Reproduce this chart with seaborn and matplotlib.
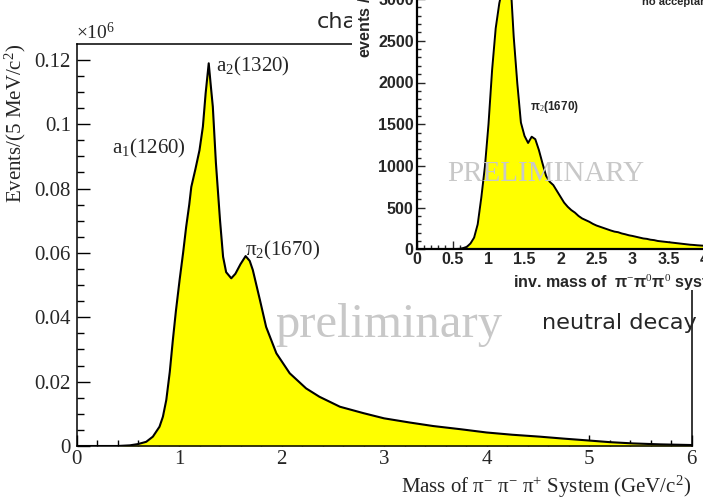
import matplotlib

matplotlib.use("Agg")
import matplotlib.pyplot as plt
import matplotlib.ticker as mtick
from matplotlib.patches import Rectangle
import seaborn as sns

##### data #####################################################################
# main plot: pi- pi- pi+ mass spectrum, events (x10^6) per 5 MeV/c^2
mass_main = [0.0, 0.40, 0.52, 0.60, 0.68, 0.745, 0.81, 0.843, 0.876, 0.91, 0.94,
             0.97, 1.006, 1.04, 1.07, 1.10, 1.12, 1.16, 1.20, 1.233, 1.26, 1.29,
             1.31, 1.33, 1.36, 1.40, 1.43, 1.46, 1.51, 1.55, 1.60, 1.65, 1.69,
             1.72, 1.79, 1.85, 1.95, 2.08, 2.24, 2.37, 2.57, 2.80, 3.00, 3.25,
             3.48, 3.75, 4.00, 4.25, 4.52, 4.75, 5.00, 5.20, 5.43, 5.70, 6.00]
events_main = [0.0, 0.0, 0.0002, 0.0006, 0.0013, 0.0029, 0.0060, 0.0091, 0.0143,
               0.0230, 0.0329, 0.0420, 0.0516, 0.0600, 0.0681, 0.0750, 0.0805,
               0.0860, 0.0919, 0.0992, 0.1096, 0.1189, 0.1120, 0.1054, 0.0880,
               0.0702, 0.0588, 0.0540, 0.0521, 0.0535, 0.0565, 0.0590, 0.0575,
               0.0547, 0.0453, 0.0370, 0.0288, 0.0226, 0.0179, 0.0153, 0.0122,
               0.0102, 0.0086, 0.0073, 0.0062, 0.0052, 0.0042, 0.0035, 0.0029,
               0.0023, 0.0017, 0.0012, 0.0008, 0.0005, 0.0003]

# inset: pi- pi0 pi0 spectrum, bin centres and contents
mass_inset = [0.00, 0.50, 0.55, 0.60, 0.65, 0.70, 0.75, 0.80, 0.85, 0.90, 0.95,
              1.00, 1.05, 1.10, 1.15, 1.20, 1.25, 1.30, 1.35, 1.40, 1.45, 1.50,
              1.55, 1.60, 1.65, 1.70, 1.75, 1.80, 1.85, 1.90, 1.95, 2.00, 2.05,
              2.10, 2.15, 2.20, 2.25, 2.30, 2.35, 2.40, 2.45, 2.50, 2.55, 2.60,
              2.65, 2.70, 2.75, 2.80, 2.85, 2.90, 2.95, 3.00, 3.05, 3.10, 3.15,
              3.20, 3.25, 3.30, 3.35, 3.40, 3.45, 3.50, 3.55, 3.60, 3.65, 3.70,
              3.75, 3.80, 3.85, 3.90, 3.95, 4.00, 4.05, 4.10]
events_inset = [0, 2, 4, 6, 15, 30, 70, 140, 300, 620, 990,
                1500, 2150, 2650, 2950, 3150, 3250, 3300, 2550, 1990, 1520, 1360,
                1275, 1350, 1320, 1190, 1030, 880, 810, 770, 700, 630, 560,
                510, 470, 440, 400, 370, 350, 330, 305, 285, 270, 255,
                240, 225, 212, 205, 190, 180, 168, 160, 150, 140, 130,
                125, 115, 110, 100, 95, 90, 85, 80, 75, 70, 65,
                60, 55, 52, 48, 45, 42, 40, 38]

main_xticks = [0, 1, 2, 3, 4, 5, 6]
main_yticks = [0, 0.02, 0.04, 0.06, 0.08, 0.10, 0.12]
inset_xticks = [0, 0.5, 1, 1.5, 2, 2.5, 3, 3.5, 4, 4.5]
inset_yticks = [0, 500, 1000, 1500, 2000, 2500, 3000]

YELLOW = "#ffff00"
GREY = "#c8c8c8"
SANS = "DejaVu Sans"

sns.set_style("ticks")
plt.rcParams["font.family"] = ["Liberation Serif", "DejaVu Serif"]
plt.rcParams["mathtext.fontset"] = "custom"
plt.rcParams["mathtext.rm"] = "Liberation Serif"
plt.rcParams["mathtext.it"] = "Liberation Serif:italic"
plt.rcParams["mathtext.bf"] = "Liberation Serif:bold"

W, H = 703, 499
fig = plt.figure(figsize=(W / 100, H / 100), dpi=100)


def fig_box(x0, y_bottom, x1, y_top):
    """pixel box (y from top) -> figure fraction rect"""
    return [x0 / W, (H - y_bottom) / H, (x1 - x0) / W, (y_bottom - y_top) / H]


##### main plot ################################################################
ax = fig.add_axes(fig_box(76.5, 446, 691.5, 44.3))
ax.fill_between(mass_main, events_main, color=YELLOW, lw=0, zorder=1)
sns.lineplot(x=mass_main, y=events_main, color="black", lw=1.5, ax=ax,
             sort=False, zorder=2)
ax.set_xlim(0, 6)
ax.set_ylim(0, 0.1248)
ax.set_xticks(main_xticks)
ax.set_yticks(main_yticks)
ax.xaxis.set_minor_locator(mtick.MultipleLocator(0.2))
ax.yaxis.set_minor_locator(mtick.MultipleLocator(0.005))
ax.xaxis.set_major_formatter(mtick.FormatStrFormatter("%g"))
ax.yaxis.set_major_formatter(mtick.FormatStrFormatter("%g"))
ax.tick_params(which="both", direction="in", top=False, right=False,
               labelsize=15, width=1.0, color="black")
ax.tick_params(axis="x", which="major", length=8, pad=3)
ax.tick_params(axis="x", which="minor", length=4)
ax.tick_params(axis="y", which="major", length=9, pad=4)
ax.tick_params(axis="y", which="minor", length=5)
for sp in ax.spines.values():
    sp.set_visible(True)
    sp.set_linewidth(1.1)
    sp.set_color("black")

ax.set_ylabel("Events/(5 MeV/c$^{2}$)", fontsize=15, loc="top")
ax.yaxis.set_label_coords(-0.079, 1.0)
ax.set_xlabel("Mass of π$^{-}$ π$^{-}$ π$^{+}$ System (GeV/c$^{2}$)",
              fontsize=15, loc="right")
ax.xaxis.set_label_coords(1.0, -0.07)
ax.text(0.0, 1.003, r"$\times$10$^{6}$", transform=ax.transAxes, fontsize=14,
        ha="left", va="bottom")

ax.text(0.35, 0.0910, "a$_{1}$(1260)", fontsize=15, va="baseline")
ax.text(1.357, 0.1163, "a$_{2}$(1320)", fontsize=15, va="baseline")
ax.text(1.64, 0.0593, "π$_{2}$(1670)", fontsize=15, va="baseline")
ax.text(1.943, 0.0338, "preliminary", fontsize=35, color=GREY, va="baseline",
        zorder=3)
ax.text(4.538, 0.0362, "neutral decay", fontsize=16.2, family=SANS,
        va="baseline")

# visible part of the charged plot heading, the rest sits under the inset
fig.text(317 / W, (H - 28) / H, "cha", fontsize=16.2, family=SANS,
         va="baseline", zorder=1)

# white panel behind the inset
fig.add_artist(Rectangle((352 / W, (H - 290) / H), 1.0, 1.0,
                         transform=fig.transFigure, facecolor="white",
                         edgecolor="none", zorder=2))

##### inset ####################################################################
ax_in = fig.add_axes(fig_box(416.5, 249.3, 416.5 + 360, 249.3 - 291.9))
ax_in.set_zorder(3)
ax_in.set_facecolor("white")
ax_in.fill_between(mass_inset, events_inset, color=YELLOW, lw=0, zorder=1)
sns.lineplot(x=mass_inset, y=events_inset, color="black", lw=1.4, ax=ax_in,
             zorder=2)
ax_in.set_xlim(0, 5)
ax_in.set_ylim(0, 3500)
ax_in.set_xticks(inset_xticks)
ax_in.set_yticks(inset_yticks)
ax_in.xaxis.set_minor_locator(mtick.MultipleLocator(0.1))
ax_in.yaxis.set_minor_locator(mtick.MultipleLocator(100))
ax_in.xaxis.set_major_formatter(mtick.FormatStrFormatter("%g"))
ax_in.tick_params(which="both", direction="in", top=False, right=False,
                  labelsize=11.5, width=1.0)
ax_in.tick_params(which="major", length=6, pad=2)
ax_in.tick_params(which="minor", length=3)
for lab in ax_in.get_xticklabels() + ax_in.get_yticklabels():
    lab.set_family("Liberation Sans")
    lab.set_fontweight("bold")
for sp in ["left", "bottom"]:
    ax_in.spines[sp].set_linewidth(1.6)
    ax_in.spines[sp].set_color("black")
for sp in ["top", "right"]:
    ax_in.spines[sp].set_linewidth(1.6)

ax_in.text(1.576, 1706, "π$_{2}$(1670)", fontsize=8.5, fontweight="bold",
           family="Liberation Sans", va="center")
ax_in.text(1.8, 903, "PRELIMINARY", fontsize=21, color=GREY, ha="center",
           va="center", zorder=3)

fig.text(513 / W, (H - 283) / H, "inv. mass of  π$^{-}$π$^{0}$π$^{0}$ system",
         fontsize=11.5, fontweight="bold", family="Liberation Sans",
         va="center", zorder=4)
fig.text(365 / W, (H - 58) / H, "events / 10 MeV/c$^{2}$", rotation=90,
         fontsize=11.5, fontweight="bold", family="Liberation Sans",
         ha="center", va="bottom", zorder=4)
fig.text(642 / W, (H - 5) / H, "no acceptance correction", fontsize=8,
         fontweight="bold", family="Liberation Sans", va="baseline", zorder=4)

fig.savefig("out.png", dpi=100)
